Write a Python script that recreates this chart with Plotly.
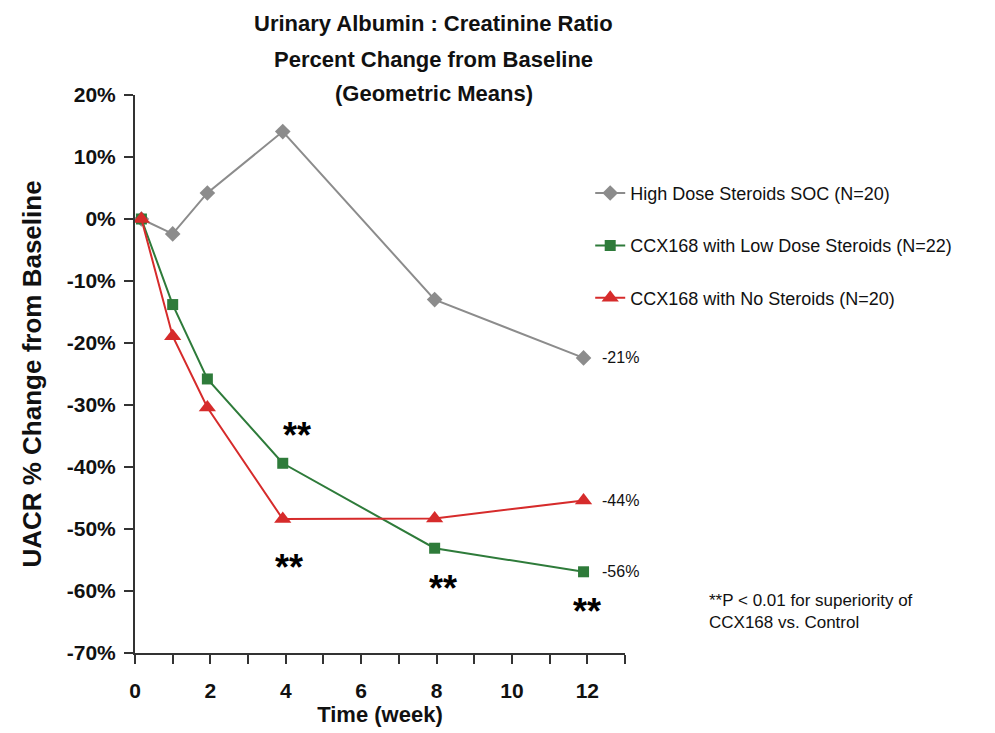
import plotly.graph_objects as go

# ---- data ----
weeks = [0.17, 1.0, 1.92, 3.92, 7.95, 11.9]
soc_vals = [0.0, -2.4, 4.2, 14.1, -13.0, -22.4]
low_dose_vals = [0.0, -13.8, -25.8, -39.4, -53.1, -56.9]
no_steroid_vals = [0.0, -18.9, -30.4, -48.4, -48.3, -45.4]

series_names = [
    "High Dose Steroids SOC (N=20)",
    "CCX168 with Low Dose Steroids (N=22)",
    "CCX168 with No Steroids (N=20)",
]
end_labels = ["-21%", "-56%", "-44%"]

x_tick_vals = list(range(0, 14))
x_tick_text = [str(v) if v % 2 == 0 and v <= 12 else "" for v in x_tick_vals]
y_tick_vals = [20, 10, 0, -10, -20, -30, -40, -50, -60, -70]
y_tick_text = [f"{v}%" for v in y_tick_vals]

# significance star positions (week, value)
star_weeks = [4.3, 4.08, 8.17, 12.0]
star_vals = [-33.9, -55.3, -58.7, -62.3]

title_lines = [
    "Urinary Albumin : Creatinine Ratio",
    "Percent Change from Baseline",
    "(Geometric Means)",
]
footnote = "**P < 0.01 for superiority of<br>CCX168 vs. Control"

GREY = "#8C8C8C"
GREEN = "#2E7B3A"
RED = "#D62B2B"
FONT = "Liberation Sans, Arial, Helvetica, sans-serif"

fig = go.Figure()
styles = [
    (soc_vals, GREY, "diamond", 12),
    (low_dose_vals, GREEN, "square", 11),
    (no_steroid_vals, RED, "triangle-up", 15),
]
for i, (vals, col, sym, sz) in enumerate(styles):
    fig.add_trace(go.Scatter(
        x=weeks, y=vals, mode="lines+markers", name=series_names[i],
        legendgroup=f"g{i}",
        line=dict(color=col, width=2),
        marker=dict(color=col, symbol=sym, size=sz, line=dict(width=0)),
        cliponaxis=False,
    ))
    fig.add_annotation(
        x=weeks[-1], y=vals[-1], text=end_labels[i], showarrow=False,
        xanchor="left", yanchor="middle", xshift=16,
        font=dict(family=FONT, size=16, color="#111111"),
    )

for sx, sy in zip(star_weeks, star_vals):
    fig.add_annotation(
        x=sx, y=sy, text="<b>**</b>", showarrow=False,
        xanchor="center", yanchor="middle", yshift=-6,
        font=dict(family=FONT, size=36, color="#000000"),
    )

title_y = [1.129, 1.0645, 1.0018]
for t, ty in zip(title_lines, title_y):
    fig.add_annotation(
        x=0.61, y=ty, xref="paper", yref="paper", text=f"<b>{t}</b>",
        showarrow=False, xanchor="center", yanchor="middle",
        font=dict(family=FONT, size=22, color="#111111"),
    )

fig.add_annotation(
    x=1.167, y=0.075, xref="paper", yref="paper", text=footnote,
    showarrow=False, xanchor="left", yanchor="middle", align="left",
    font=dict(family=FONT, size=17, color="#111111"),
)

axis_common = dict(
    showline=True, linecolor="#333333", linewidth=2,
    ticks="outside", ticklen=9, tickwidth=2, tickcolor="#333333",
    showgrid=False, zeroline=False,
)

fig.update_layout(
    width=987, height=725,
    margin=dict(l=127, r=370, t=87, b=80),
    paper_bgcolor="white", plot_bgcolor="white",
    font=dict(family=FONT),
    showlegend=True,
    legend=dict(
        x=0.929, y=0.857, xanchor="left", yanchor="top",
        font=dict(family=FONT, size=18, color="#111111"),
        tracegroupgap=26, bgcolor="rgba(0,0,0,0)",
    ),
    xaxis=dict(
        range=[0, 13], tickvals=x_tick_vals,
        ticktext=[f"<b>{t}</b>" if t else "" for t in x_tick_text],
        ticklabelstandoff=9,
        tickfont=dict(family=FONT, size=21, color="#111111"),
        title=dict(text="<b>Time (week)</b>", standoff=1,
                   font=dict(family=FONT, size=22, color="#111111")),
        **axis_common,
    ),
    yaxis=dict(
        range=[-70, 20], tickvals=y_tick_vals,
        ticktext=[f"<b>{t}</b>" for t in y_tick_text],
        ticklabelstandoff=4,
        tickfont=dict(family=FONT, size=21, color="#111111"),
        title=dict(text="<b>UACR % Change from Baseline</b>", standoff=18,
                   font=dict(family=FONT, size=26, color="#111111")),
        **axis_common,
    ),
)

fig.write_html("out.html")
